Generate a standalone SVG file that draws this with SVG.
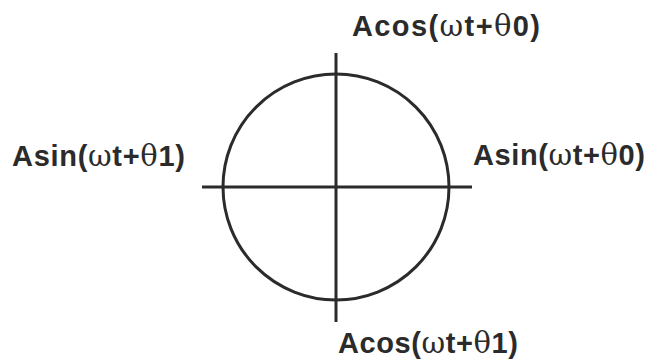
<svg xmlns="http://www.w3.org/2000/svg" width="648" height="363" viewBox="0 0 648 363">
<style>
.ln{stroke:#2b2b2b;stroke-width:3;fill:none}
.lb{font-family:"Liberation Sans",Arial,sans-serif;font-weight:bold;font-size:29px;fill:#2b2b2b}
.g{font-family:"DejaVu Serif","Liberation Serif",serif;font-weight:normal}
</style>
<rect width="648" height="363" fill="#fff"/>
<g id="circle"><circle class="ln" cx="336" cy="187" r="113"/></g>
<g id="axes">
<line class="ln" x1="202" y1="187" x2="472" y2="187"/>
<line class="ln" x1="336" y1="53" x2="336" y2="322"/>
</g>
<g id="label-top"><text class="lb" x="352" y="36" textLength="188" lengthAdjust="spacing">Acos(<tspan class="g">ω</tspan>t+<tspan class="g">θ</tspan>0)</text></g>
<g id="label-left"><text class="lb" x="12" y="166" textLength="173" lengthAdjust="spacing">Asin(<tspan class="g">ω</tspan>t+<tspan class="g">θ</tspan>1)</text></g>
<g id="label-right"><text class="lb" x="473" y="165" textLength="172" lengthAdjust="spacing">Asin(<tspan class="g">ω</tspan>t+<tspan class="g">θ</tspan>0)</text></g>
<g id="label-bottom"><text class="lb" x="338" y="353" textLength="180" lengthAdjust="spacing">Acos(<tspan class="g">ω</tspan>t+<tspan class="g">θ</tspan>1)</text></g>
</svg>
